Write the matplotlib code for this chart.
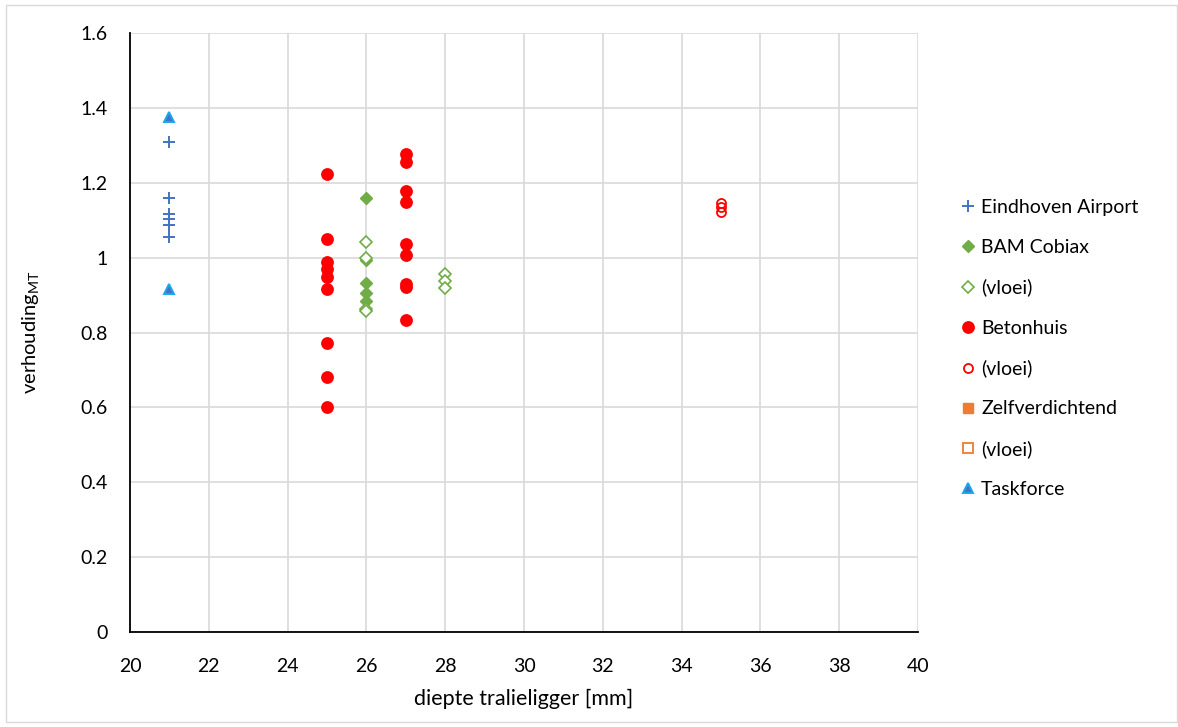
import matplotlib
matplotlib.use("Agg")
import matplotlib.pyplot as plt
from matplotlib.patches import Rectangle

# Data
ea_x = [21, 21, 21, 21, 21, 21]
ea_y = [1.308, 1.160, 1.116, 1.102, 1.088, 1.055]

bam_x = [26, 26, 26, 26, 26]
bam_y = [1.160, 0.993, 0.931, 0.906, 0.885]

bam_v_x = [26, 26, 26, 26, 28, 28, 28]
bam_v_y = [1.042, 1.000, 0.862, 0.857, 0.956, 0.937, 0.919]

bet_x = [25, 25, 25, 25, 25, 25, 25, 25, 25,
         27, 27, 27, 27, 27, 27, 27, 27, 27]
bet_y = [1.223, 1.050, 0.988, 0.969, 0.949, 0.915, 0.771, 0.681, 0.601,
         1.276, 1.256, 1.177, 1.148, 1.037, 1.008, 0.930, 0.922, 0.834]

bet_v_x = [35, 35, 35]
bet_v_y = [1.145, 1.134, 1.121]

zelf_x, zelf_y = [], []
zelf_v_x, zelf_v_y = [], []

tf_x = [21, 21]
tf_y = [1.376, 0.917]

x_ticks = [20, 22, 24, 26, 28, 30, 32, 34, 36, 38, 40]
y_ticks = [0, 0.2, 0.4, 0.6, 0.8, 1.0, 1.2, 1.4, 1.6]
y_labels = ["0", "0.2", "0.4", "0.6", "0.8", "1", "1.2", "1.4", "1.6"]

plt.rcParams['font.family'] = ['Lato', 'DejaVu Sans']

fig = plt.figure(figsize=(11.78, 7.27), dpi=100)
ax = fig.add_axes([130/1178, 1-632/727, (918-130)/1178, (632-33)/727])

blue = '#4472C4'
green = '#70AD47'
red = '#FF0000'
orange = '#ED7D31'

ax.plot(ea_x, ea_y, ls='none', marker='+', ms=9, mew=1.4, color=blue, label='Eindhoven Airport', zorder=3)
ax.plot(bam_x, bam_y, ls='none', marker='D', ms=6, color=green, mec=green, label='BAM Cobiax', zorder=3)
ax.plot(bam_v_x, bam_v_y, ls='none', marker='D', ms=6, mfc='white', mec=green, mew=1.2, label='(vloei)', zorder=3)
ax.plot(bet_x, bet_y, ls='none', marker='o', ms=8.2, color=red, label='Betonhuis', zorder=3)
ax.plot(bet_v_x, bet_v_y, ls='none', marker='o', ms=6.5, mfc='none', mec=red, mew=1.3, label='(vloei)', zorder=3)
ax.plot(zelf_x, zelf_y, ls='none', marker='s', ms=7, color=orange, label='Zelfverdichtend', zorder=3)
ax.plot(zelf_v_x, zelf_v_y, ls='none', marker='s', ms=6.5, mfc='white', mec=orange, mew=1.3, label='(vloei)', zorder=3)
ax.plot(tf_x, tf_y, ls='none', marker='^', ms=7.5, mfc=blue, mec='#1AA7EC', mew=1.4, label='Taskforce', zorder=3)

ax.set_xlim(20, 40)
ax.set_ylim(0, 1.6)
ax.set_xticks(x_ticks)
ax.set_yticks(y_ticks)
ax.set_yticklabels(y_labels)
ax.tick_params(length=0, labelsize=14)
ax.tick_params(axis='x', pad=19)
ax.tick_params(axis='y', pad=16)
ax.grid(True, color='#D9D9D9', lw=1.2)
ax.set_axisbelow(True)
for s in ['top', 'right']:
    ax.spines[s].set_visible(False)
for s in ['left', 'bottom']:
    ax.spines[s].set_color('black')
    ax.spines[s].set_linewidth(1.3)

ax.set_xlabel('diepte tralieligger [mm]', fontsize=15.5, labelpad=10)
ax.set_ylabel('verhouding$_{\\mathregular{MT}}$', fontsize=14.5, labelpad=28)

leg = ax.legend(loc='upper left', bbox_to_anchor=(952/1178, 1-191/727), bbox_transform=fig.transFigure,
                frameon=False, fontsize=14, labelspacing=1.18, handlelength=0.8, handletextpad=0.3,
                borderaxespad=0)

fig.patches.append(Rectangle((6/1178, 5/727), 1171/1178, 717/727, transform=fig.transFigure,
                             fill=False, ec='#D9D9D9', lw=1))

fig.savefig('out.png', dpi=100)
